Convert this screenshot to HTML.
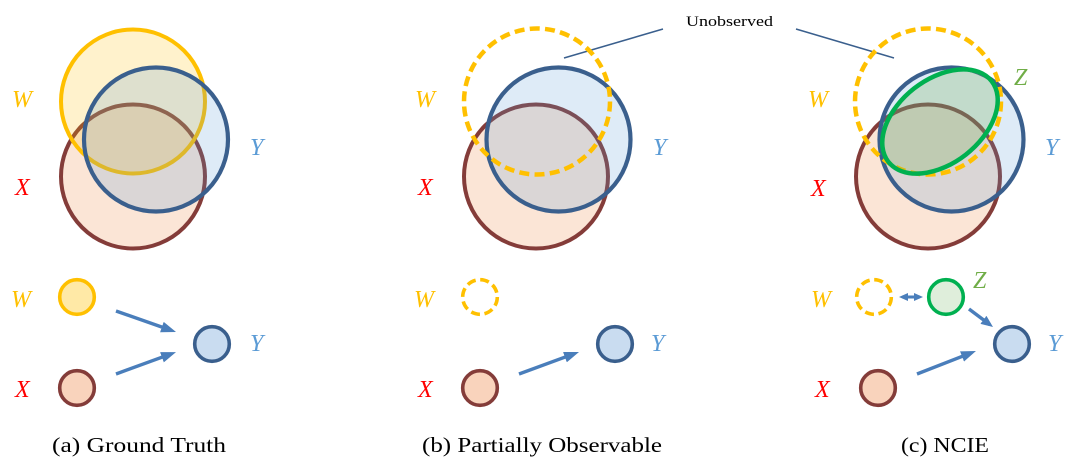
<!DOCTYPE html>
<html>
<head>
<meta charset="utf-8">
<style>
html,body{margin:0;padding:0;background:#fff;}
body{width:1080px;height:465px;overflow:hidden;}
svg{display:block;}
.lbl{font-family:"Liberation Serif",serif;font-style:italic;font-size:24px;}
.cap{font-family:"Liberation Serif",serif;font-size:21px;fill:#000;}
</style>
</head>
<body>
<svg width="1080" height="465" viewBox="0 0 1080 465" xmlns="http://www.w3.org/2000/svg">
<defs>
  <marker id="ah" viewBox="0 0 15 11" refX="10" refY="5.5" markerWidth="15" markerHeight="11" markerUnits="userSpaceOnUse" orient="auto-start-reverse">
    <path d="M0,0 L15,5.5 L0,11 z" fill="#4A7EBB"/>
  </marker>
  <marker id="ahm" viewBox="0 0 12 10" refX="8" refY="5" markerWidth="12" markerHeight="10" markerUnits="userSpaceOnUse" orient="auto-start-reverse">
    <path d="M0,0 L12,5 L0,10 z" fill="#4A7EBB"/>
  </marker>
  <marker id="ahs" viewBox="0 0 9 8" refX="6" refY="4" markerWidth="9" markerHeight="8" markerUnits="userSpaceOnUse" orient="auto-start-reverse">
    <path d="M0,0 L9,4 L0,8 z" fill="#4A7EBB"/>
  </marker>
</defs>

<!-- ===== Panel (a) Venn ===== -->
<circle cx="133" cy="176.5" r="72" fill="#ED7D31" fill-opacity="0.2" stroke="#843C39" stroke-width="4"/>
<circle cx="133" cy="101.5" r="72" fill="#FFC000" fill-opacity="0.2" stroke="#FFC000" stroke-width="4"/>
<circle cx="156" cy="139.5" r="72" fill="#5B9BD5" fill-opacity="0.2" stroke="#3A5F8D" stroke-width="4.2"/>
<text class="lbl" x="12" y="107" fill="#FFC000">W</text>
<text class="lbl" x="250" y="155" fill="#5B9BD5">Y</text>
<text class="lbl" x="15" y="195" fill="#FF0000">X</text>

<!-- ===== Panel (a) graph ===== -->
<circle cx="77" cy="297" r="17.3" fill="#FFE9A6" stroke="#FFC000" stroke-width="3.6"/>
<circle cx="77" cy="388" r="17.3" fill="#F9D3BC" stroke="#843C39" stroke-width="3.6"/>
<circle cx="212" cy="344" r="17.3" fill="#C9DCF0" stroke="#3A5F8D" stroke-width="3.6"/>
<line x1="116" y1="311" x2="171.3" y2="330.35" stroke="#4A7EBB" stroke-width="3.4" marker-end="url(#ah)"/>
<line x1="116" y1="374" x2="171.3" y2="353.8" stroke="#4A7EBB" stroke-width="3.4" marker-end="url(#ah)"/>
<text class="lbl" x="11" y="307" fill="#FFC000">W</text>
<text class="lbl" x="15" y="397" fill="#FF0000">X</text>
<text class="lbl" x="250" y="351" fill="#5B9BD5">Y</text>
<text class="cap" x="52" y="452" textLength="174" lengthAdjust="spacingAndGlyphs">(a) Ground Truth</text>

<!-- ===== Unobserved label ===== -->
<text x="686" y="26" font-family="Liberation Serif, serif" font-size="15" fill="#000" textLength="87" lengthAdjust="spacingAndGlyphs">Unobserved</text>
<line x1="663" y1="29" x2="564" y2="58" stroke="#3A5F8D" stroke-width="1.5"/>
<line x1="796" y1="29" x2="894" y2="58" stroke="#3A5F8D" stroke-width="1.5"/>

<!-- ===== Panel (b) Venn ===== -->
<circle cx="536" cy="176.5" r="72" fill="#ED7D31" fill-opacity="0.2" stroke="#843C39" stroke-width="4"/>
<circle cx="558.5" cy="139.5" r="72" fill="#5B9BD5" fill-opacity="0.2" stroke="#3A5F8D" stroke-width="4.2"/>
<circle cx="537" cy="101.5" r="73" fill="none" stroke="#FFC000" stroke-width="4.5" stroke-dasharray="10 5.3"/>
<text class="lbl" x="415" y="107" fill="#FFC000">W</text>
<text class="lbl" x="653" y="155" fill="#5B9BD5">Y</text>
<text class="lbl" x="418" y="195" fill="#FF0000">X</text>

<!-- ===== Panel (b) graph ===== -->
<circle cx="480" cy="297" r="17.3" fill="none" stroke="#FFC000" stroke-width="3.6" stroke-dasharray="9 4.6"/>
<circle cx="480" cy="388" r="17.3" fill="#F9D3BC" stroke="#843C39" stroke-width="3.6"/>
<circle cx="615" cy="344" r="17.3" fill="#C9DCF0" stroke="#3A5F8D" stroke-width="3.6"/>
<line x1="519" y1="374" x2="574.3" y2="353.7" stroke="#4A7EBB" stroke-width="3.4" marker-end="url(#ah)"/>
<text class="lbl" x="414" y="307" fill="#FFC000">W</text>
<text class="lbl" x="418" y="397" fill="#FF0000">X</text>
<text class="lbl" x="651" y="351" fill="#5B9BD5">Y</text>
<text class="cap" x="422" y="452" textLength="240" lengthAdjust="spacingAndGlyphs">(b) Partially Observable</text>

<!-- ===== Panel (c) Venn ===== -->
<circle cx="928" cy="176.5" r="72" fill="#ED7D31" fill-opacity="0.2" stroke="#843C39" stroke-width="4"/>
<circle cx="951.5" cy="139.5" r="72" fill="#5B9BD5" fill-opacity="0.2" stroke="#3A5F8D" stroke-width="4.2"/>
<circle cx="928" cy="101.5" r="73" fill="none" stroke="#FFC000" stroke-width="4.5" stroke-dasharray="10 5.3"/>
<ellipse cx="940" cy="121.5" rx="65.5" ry="42" transform="rotate(-38 940 121.5)" fill="#70AD47" fill-opacity="0.25" stroke="#00B050" stroke-width="4.5"/>
<text class="lbl" x="808" y="107" fill="#FFC000">W</text>
<text class="lbl" x="1014" y="85" fill="#70AD47">Z</text>
<text class="lbl" x="1045" y="155" fill="#5B9BD5">Y</text>
<text class="lbl" x="811" y="196" fill="#FF0000">X</text>

<!-- ===== Panel (c) graph ===== -->
<circle cx="874" cy="297" r="17.3" fill="none" stroke="#FFC000" stroke-width="3.6" stroke-dasharray="9 4.6"/>
<circle cx="946" cy="297" r="17.3" fill="#DFEEDB" stroke="#00B050" stroke-width="3.6"/>
<circle cx="878" cy="388" r="17.3" fill="#F9D3BC" stroke="#843C39" stroke-width="3.6"/>
<circle cx="1012" cy="344" r="17.3" fill="#C9DCF0" stroke="#3A5F8D" stroke-width="3.6"/>
<line x1="902" y1="297" x2="920" y2="297" stroke="#4A7EBB" stroke-width="3" marker-start="url(#ahs)" marker-end="url(#ahs)"/>
<line x1="969" y1="309" x2="989.8" y2="324.6" stroke="#4A7EBB" stroke-width="3.4" marker-end="url(#ahm)"/>
<line x1="917" y1="374" x2="971.3" y2="352.8" stroke="#4A7EBB" stroke-width="3.4" marker-end="url(#ah)"/>
<text class="lbl" x="811" y="307" fill="#FFC000">W</text>
<text class="lbl" x="973" y="288" fill="#70AD47">Z</text>
<text class="lbl" x="815" y="397" fill="#FF0000">X</text>
<text class="lbl" x="1048" y="351" fill="#5B9BD5">Y</text>
<text class="cap" x="901" y="452" textLength="88" lengthAdjust="spacingAndGlyphs">(c) NCIE</text>
</svg>
</body>
</html>
